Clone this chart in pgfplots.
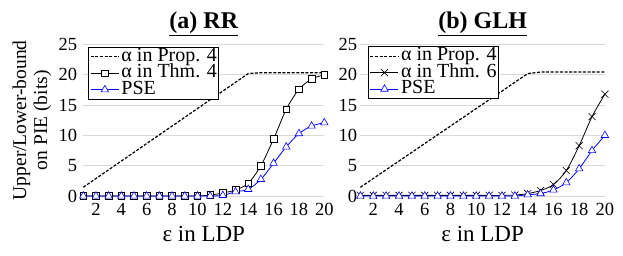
\documentclass[border=0pt]{standalone}
\usepackage{fontspec}
\setmainfont{Liberation Serif}
\usepackage{pgfplots}
\pgfplotsset{compat=1.18}
\definecolor{gridc}{RGB}{217,217,217}
\definecolor{pseblue}{RGB}{0,0,255}
\pgfplotsset{
  common/.style={
    scale only axis,
    height=151.5pt,
    xmin=1, xmax=20, ymin=0, ymax=25,
    xtick={2,4,...,20}, ytick={0,5,...,25},
    axis line style={draw=none},
    major tick length=0pt,
    ymajorgrids, grid style={gridc, line width=0.8pt},
    clip=false,
    /pgf/number format/assume math mode=true,
    tick label style={font=\fontsize{18.5}{18.5}\selectfont},
    xticklabel style={inner sep=0pt, anchor=north, yshift=-7pt},
    every axis x label/.style={at={(axis description cs:0.5,0)}, anchor=center, yshift=-38pt, font=\fontsize{23}{23}\selectfont},
    every axis title/.style={at={(axis description cs:0.5,1)}, anchor=center, yshift=21pt, font=\fontsize{24}{24}\selectfont\bfseries},
    xlabel={ε in LDP},
    legend cell align=left,
    legend style={draw=black, line width=0.8pt, fill=white, inner sep=1.5pt, row sep=1pt, column sep=2pt,
      font=\fontsize{20}{20}\selectfont, nodes={inner sep=0pt, text height=12.5pt, text depth=3pt}},
    legend image code/.code={\draw[mark repeat=2,mark phase=2,##1] plot coordinates {(0pt,0pt) (14pt,0pt) (28pt,0pt)};},
  },
  dashA/.style={black, line width=1.2pt, dash pattern=on 3pt off 1.6pt, mark=none},
  thmA/.style={black, line width=0.8pt, smooth, mark=square*, mark size=3.3pt, mark options={solid, fill=white, line width=0.6pt}},
  thmB/.style={black, line width=0.8pt, smooth, mark=x, mark size=5pt, mark options={solid, line width=0.6pt}},
  pse/.style={pseblue, line width=0.8pt, smooth, mark=triangle*, mark size=4.3pt, mark options={solid, fill=white, line width=0.6pt}},
}
\begin{document}
\begin{tikzpicture}[x=1pt,y=1pt]
\path[use as bounding box] (-83.3,-60) rectangle (539.7,196);
\node[rotate=90, align=center, font=\fontsize{19.5}{21}\selectfont] at (-51.3,75.75) {Upper/Lower-bound\\on PIE (bits)};
\begin{axis}[common, at={(0pt,0pt)}, anchor=south west, width=241pt,
  title={\underline{(a) RR}},
  yticklabel style={inner sep=0pt, anchor=east, xshift=-6pt},
  legend style={at={(axis description cs:0.021,0.983)}, anchor=north west}]
\addplot[dashA] coordinates {(1,1.44) (2,2.89) (3,4.33) (4,5.77) (5,7.21) (6,8.66) (7,10.10) (8,11.54) (9,12.98) (10,14.43) (11,15.87) (12,17.31) (13,18.76) (14,20.2) (15,20.35) (16,20.35) (17,20.35) (18,20.35) (19,20.35) (20,20.35)};
\addlegendentry{α in Prop. 4}
\addplot[thmA] coordinates {(1,0) (2,0) (3,0) (4,0) (5,0) (6,0) (7,0) (8,0) (9,0) (10,0) (11,0.15) (12,0.5) (13,1.0) (14,2.1) (15,5.0) (16,9.4) (17,14.3) (18,17.6) (19,19.3) (20,20.0)};
\addlegendentry{α in Thm. 4}
\addplot[pse] coordinates {(1,0) (2,0) (3,0) (4,0) (5,0) (6,0) (7,0) (8,0) (9,0) (10,0) (11,0) (12,0.1) (13,0.7) (14,1.1) (15,2.75) (16,5.4) (17,8.1) (18,10.3) (19,11.55) (20,12.1)};
\addlegendentry{PSE}
\end{axis}
\begin{axis}[common, at={(277.1pt,0pt)}, anchor=south west, width=244.5pt,
  title={\underline{(b) GLH}},
  yticklabel style={inner sep=0pt, anchor=east, xshift=-3pt},
  legend style={at={(axis description cs:0.031,0.987)}, anchor=north west}]
\addplot[dashA] coordinates {(1,1.44) (2,2.89) (3,4.33) (4,5.77) (5,7.21) (6,8.66) (7,10.10) (8,11.54) (9,12.98) (10,14.43) (11,15.87) (12,17.31) (13,18.76) (14,20.2) (15,20.45) (16,20.45) (17,20.45) (18,20.45) (19,20.45) (20,20.45)};
\addlegendentry{α in Prop. 4}
\addplot[thmB] coordinates {(1,0.1) (2,0.1) (3,0.1) (4,0.1) (5,0.1) (6,0.1) (7,0.1) (8,0.1) (9,0.1) (10,0.1) (11,0.1) (12,0.1) (13,0.15) (14,0.4) (15,0.9) (16,1.9) (17,4.2) (18,8.3) (19,13.1) (20,16.8)};
\addlegendentry{α in Thm. 6}
\addplot[pse] coordinates {(1,0) (2,0) (3,0) (4,0) (5,0) (6,0) (7,0) (8,0) (9,0) (10,0) (11,0) (12,0) (13,0) (14,0.2) (15,0.4) (16,1.0) (17,2.2) (18,4.5) (19,7.5) (20,10.0)};
\addlegendentry{PSE}
\end{axis}
\end{tikzpicture}
\end{document}
